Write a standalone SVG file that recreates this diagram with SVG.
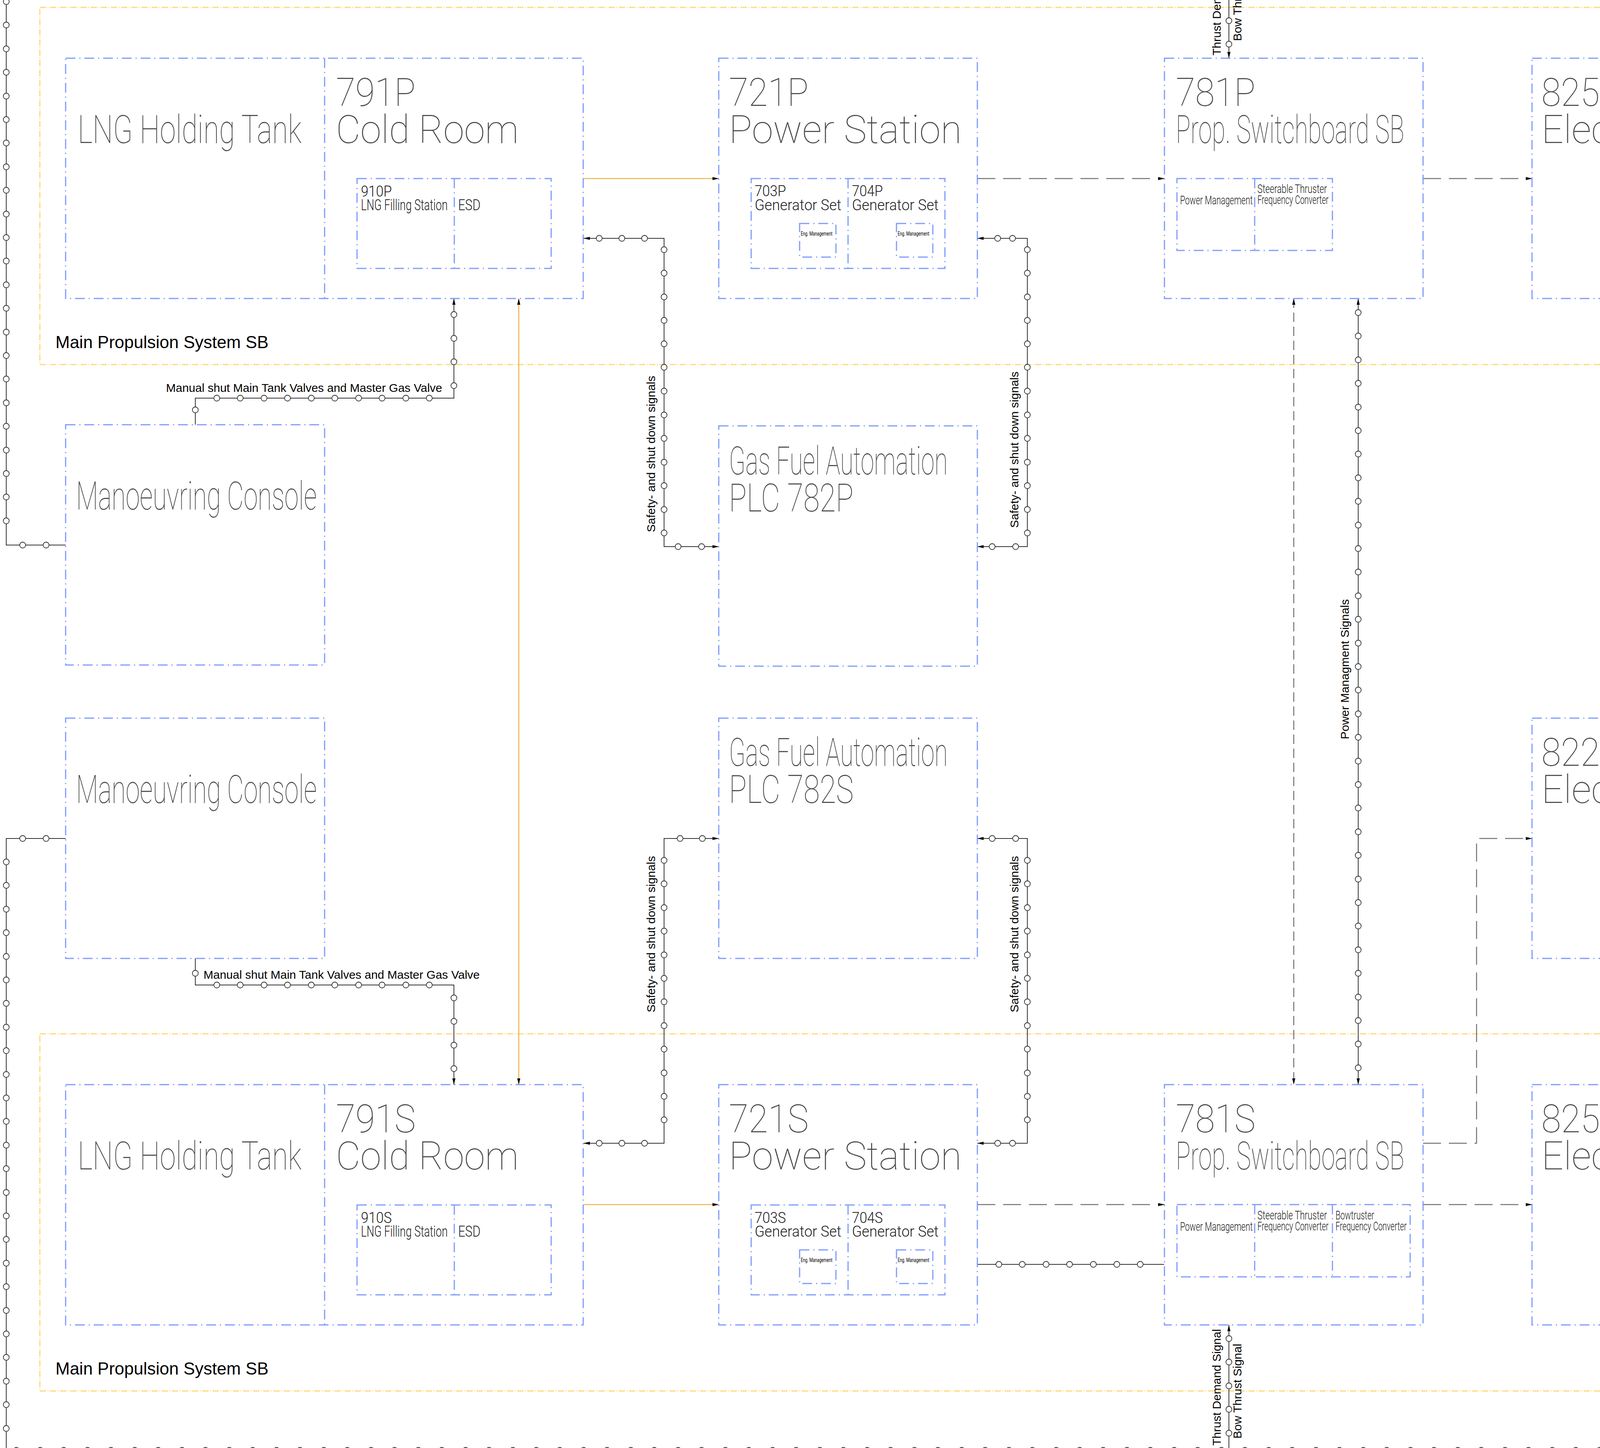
<svg xmlns="http://www.w3.org/2000/svg" xmlns:xlink="http://www.w3.org/1999/xlink" width="5311" height="3706" viewBox="0 0 5311 3706">
<style>
.box{fill:none;stroke:#7f9bff;stroke-width:3;stroke-dasharray:25 10 3 10}
.div{fill:none;stroke:#7f9bff;stroke-width:3;stroke-dasharray:25 10 3 10}
.frame{fill:none;stroke:#ffd97a;stroke-width:3;stroke-dasharray:16 4 2 4}
.wire{fill:none;stroke:#333;stroke-width:2}
.dash{fill:none;stroke:#707070;stroke-width:2.5;stroke-dasharray:46 20}
.dashv{fill:none;stroke:#707070;stroke-width:2.5;stroke-dasharray:24 12}
.yel{fill:none;stroke:#f2b24a;stroke-width:2.5}
.dot{fill:#fff;stroke:#333;stroke-width:1.8}
.cad{font-family:Roboto,Lato,"DejaVu Sans",sans-serif;font-weight:100;fill:#4a4a4a}
.big{font-size:100px}
.mid{font-size:38px;font-weight:300;fill:#222}
.sm{font-size:31px;font-weight:300;fill:#222}
.xs{font-size:14px;font-weight:400;fill:#000}
.lbl{font-family:"Liberation Sans",Arial,sans-serif;font-size:30px;fill:#000}
.ttl{font-family:"Liberation Sans",Arial,sans-serif;font-size:44px;fill:#000}
</style>
<defs>
<marker id="ah" viewBox="0 0 16 8" refX="16" refY="4" markerWidth="16" markerHeight="8" markerUnits="userSpaceOnUse" orient="auto-start-reverse"><path d="M0,0 L16,4 L0,8 z" fill="#000"/></marker>
<circle id="o" r="7.5" class="dot"/>
</defs>

<g id="frames">
<rect class="frame" x="102" y="19" width="5206" height="914"/>
<rect class="frame" x="102" y="2646" width="5206" height="914"/>
<text class="ttl" x="142" y="891">Main Propulsion System SB</text>
<text class="ttl" x="142" y="3518">Main Propulsion System SB</text>
</g>

<g id="connectors">
<path class="wire" d="M16 -20 V1395 H168"/>
<path class="wire" d="M168 2146 H16 V3712 H4916"/>
<path class="wire" d="M500 1087 V1019 H1162 V764" marker-end="url(#ah)"/>
<path class="wire" d="M500 2453 V2521 H1162 V2776" marker-end="url(#ah)"/>
<path class="yel" d="M1494 457 H1840" marker-end="url(#ah)"/>
<path class="yel" d="M1328 764 V2776" marker-start="url(#ah)" marker-end="url(#ah)"/>
<path class="yel" d="M1494 3083 H1840" marker-end="url(#ah)"/>
<path class="wire" d="M1494 610 H1700 V1399 H1840" marker-start="url(#ah)" marker-end="url(#ah)"/>
<path class="wire" d="M2502 610 H2630 V1399 H2502" marker-start="url(#ah)" marker-end="url(#ah)"/>
<path class="wire" d="M1840 2146 H1700 V2926 H1494" marker-start="url(#ah)" marker-end="url(#ah)"/>
<path class="wire" d="M2502 2146 H2630 V2926 H2502" marker-start="url(#ah)" marker-end="url(#ah)"/>
<path class="dash" d="M2502 457 H2981" marker-end="url(#ah)"/>
<path class="dash" d="M3643 457 H3922" marker-end="url(#ah)"/>
<path class="dash" d="M2502 3083 H2981" marker-end="url(#ah)"/>
<path class="dash" d="M3643 3083 H3922" marker-end="url(#ah)"/>
<path class="dash" d="M3643 2926 H3780 V2146 H3922" marker-end="url(#ah)"/>
<path class="dashv" d="M3312 764 V2776" marker-start="url(#ah)" marker-end="url(#ah)"/>
<path class="wire" d="M3477 764 V2776" marker-start="url(#ah)" marker-end="url(#ah)"/>
<path class="wire" d="M2502 3236 H2980"/>
<path class="wire" d="M3146 -20 V149" marker-end="url(#ah)"/>
<path class="wire" d="M4916 -20 V149" marker-end="url(#ah)"/>
<path class="wire" d="M3146 3712 V3391" marker-end="url(#ah)"/>
<path class="wire" d="M4916 3712 V3391" marker-end="url(#ah)"/>

<g id="dots">
<use href="#o" x="16" y="4"/><use href="#o" x="16" y="64"/><use href="#o" x="16" y="125"/><use href="#o" x="16" y="185"/><use href="#o" x="16" y="246"/><use href="#o" x="16" y="306"/><use href="#o" x="16" y="366"/><use href="#o" x="16" y="427"/><use href="#o" x="16" y="487"/><use href="#o" x="16" y="548"/><use href="#o" x="16" y="608"/><use href="#o" x="16" y="668"/><use href="#o" x="16" y="729"/><use href="#o" x="16" y="789"/><use href="#o" x="16" y="850"/><use href="#o" x="16" y="910"/><use href="#o" x="16" y="970"/><use href="#o" x="16" y="1031"/><use href="#o" x="16" y="1091"/><use href="#o" x="16" y="1152"/><use href="#o" x="16" y="1212"/><use href="#o" x="16" y="1272"/><use href="#o" x="16" y="1333"/>
<use href="#o" x="58" y="1395"/><use href="#o" x="118" y="1395"/>
<use href="#o" x="58" y="2146"/><use href="#o" x="118" y="2146"/>
<use href="#o" x="16" y="2206"/><use href="#o" x="16" y="2266"/><use href="#o" x="16" y="2327"/><use href="#o" x="16" y="2387"/><use href="#o" x="16" y="2448"/><use href="#o" x="16" y="2508"/><use href="#o" x="16" y="2568"/><use href="#o" x="16" y="2629"/><use href="#o" x="16" y="2689"/><use href="#o" x="16" y="2750"/><use href="#o" x="16" y="2810"/><use href="#o" x="16" y="2870"/><use href="#o" x="16" y="2931"/><use href="#o" x="16" y="2991"/><use href="#o" x="16" y="3052"/><use href="#o" x="16" y="3112"/><use href="#o" x="16" y="3172"/><use href="#o" x="16" y="3233"/><use href="#o" x="16" y="3293"/><use href="#o" x="16" y="3354"/><use href="#o" x="16" y="3414"/><use href="#o" x="16" y="3474"/><use href="#o" x="16" y="3535"/><use href="#o" x="16" y="3595"/><use href="#o" x="16" y="3656"/>
<use href="#o" x="42" y="3712"/><use href="#o" x="103" y="3712"/><use href="#o" x="163" y="3712"/><use href="#o" x="224" y="3712"/><use href="#o" x="284" y="3712"/><use href="#o" x="345" y="3712"/><use href="#o" x="405" y="3712"/><use href="#o" x="466" y="3712"/><use href="#o" x="526" y="3712"/><use href="#o" x="587" y="3712"/><use href="#o" x="647" y="3712"/><use href="#o" x="708" y="3712"/><use href="#o" x="768" y="3712"/><use href="#o" x="829" y="3712"/><use href="#o" x="889" y="3712"/><use href="#o" x="950" y="3712"/><use href="#o" x="1010" y="3712"/><use href="#o" x="1071" y="3712"/><use href="#o" x="1131" y="3712"/><use href="#o" x="1192" y="3712"/><use href="#o" x="1252" y="3712"/><use href="#o" x="1313" y="3712"/><use href="#o" x="1373" y="3712"/><use href="#o" x="1433" y="3712"/><use href="#o" x="1494" y="3712"/><use href="#o" x="1554" y="3712"/><use href="#o" x="1615" y="3712"/><use href="#o" x="1675" y="3712"/><use href="#o" x="1736" y="3712"/><use href="#o" x="1796" y="3712"/><use href="#o" x="1857" y="3712"/><use href="#o" x="1917" y="3712"/><use href="#o" x="1978" y="3712"/><use href="#o" x="2038" y="3712"/><use href="#o" x="2099" y="3712"/><use href="#o" x="2159" y="3712"/><use href="#o" x="2220" y="3712"/><use href="#o" x="2280" y="3712"/><use href="#o" x="2341" y="3712"/><use href="#o" x="2401" y="3712"/><use href="#o" x="2462" y="3712"/><use href="#o" x="2522" y="3712"/><use href="#o" x="2583" y="3712"/><use href="#o" x="2643" y="3712"/><use href="#o" x="2704" y="3712"/><use href="#o" x="2764" y="3712"/><use href="#o" x="2824" y="3712"/><use href="#o" x="2885" y="3712"/><use href="#o" x="2945" y="3712"/><use href="#o" x="3006" y="3712"/><use href="#o" x="3066" y="3712"/><use href="#o" x="3127" y="3712"/><use href="#o" x="3187" y="3712"/><use href="#o" x="3248" y="3712"/><use href="#o" x="3308" y="3712"/><use href="#o" x="3369" y="3712"/><use href="#o" x="3429" y="3712"/><use href="#o" x="3490" y="3712"/><use href="#o" x="3550" y="3712"/><use href="#o" x="3611" y="3712"/><use href="#o" x="3671" y="3712"/><use href="#o" x="3732" y="3712"/><use href="#o" x="3792" y="3712"/><use href="#o" x="3853" y="3712"/><use href="#o" x="3913" y="3712"/><use href="#o" x="3974" y="3712"/><use href="#o" x="4034" y="3712"/><use href="#o" x="4095" y="3712"/><use href="#o" x="4155" y="3712"/><use href="#o" x="4215" y="3712"/><use href="#o" x="4276" y="3712"/><use href="#o" x="4336" y="3712"/><use href="#o" x="4397" y="3712"/><use href="#o" x="4457" y="3712"/><use href="#o" x="4518" y="3712"/><use href="#o" x="4578" y="3712"/><use href="#o" x="4639" y="3712"/><use href="#o" x="4699" y="3712"/><use href="#o" x="4760" y="3712"/><use href="#o" x="4820" y="3712"/><use href="#o" x="4881" y="3712"/>
<use href="#o" x="500" y="1049"/>
<use href="#o" x="555" y="1019"/><use href="#o" x="615" y="1019"/><use href="#o" x="676" y="1019"/><use href="#o" x="736" y="1019"/><use href="#o" x="797" y="1019"/><use href="#o" x="857" y="1019"/><use href="#o" x="918" y="1019"/><use href="#o" x="978" y="1019"/><use href="#o" x="1039" y="1019"/><use href="#o" x="1099" y="1019"/>
<use href="#o" x="1162" y="987"/><use href="#o" x="1162" y="926"/><use href="#o" x="1162" y="866"/><use href="#o" x="1162" y="805"/>
<use href="#o" x="500" y="2491"/>
<use href="#o" x="555" y="2521"/><use href="#o" x="615" y="2521"/><use href="#o" x="676" y="2521"/><use href="#o" x="736" y="2521"/><use href="#o" x="797" y="2521"/><use href="#o" x="857" y="2521"/><use href="#o" x="918" y="2521"/><use href="#o" x="978" y="2521"/><use href="#o" x="1039" y="2521"/><use href="#o" x="1099" y="2521"/>
<use href="#o" x="1162" y="2554"/><use href="#o" x="1162" y="2614"/><use href="#o" x="1162" y="2675"/><use href="#o" x="1162" y="2735"/>
<use href="#o" x="1534" y="610"/><use href="#o" x="1592" y="610"/><use href="#o" x="1650" y="610"/>
<use href="#o" x="1700" y="639"/><use href="#o" x="1700" y="699"/><use href="#o" x="1700" y="760"/><use href="#o" x="1700" y="820"/><use href="#o" x="1700" y="880"/><use href="#o" x="1700" y="940"/><use href="#o" x="1700" y="1001"/><use href="#o" x="1700" y="1062"/><use href="#o" x="1700" y="1122"/><use href="#o" x="1700" y="1183"/><use href="#o" x="1700" y="1243"/><use href="#o" x="1700" y="1304"/><use href="#o" x="1700" y="1364"/>
<use href="#o" x="1736" y="1399"/><use href="#o" x="1796" y="1399"/>
<use href="#o" x="2554" y="610"/><use href="#o" x="2592" y="610"/>
<use href="#o" x="2630" y="639"/><use href="#o" x="2630" y="699"/><use href="#o" x="2630" y="760"/><use href="#o" x="2630" y="820"/><use href="#o" x="2630" y="880"/><use href="#o" x="2630" y="940"/><use href="#o" x="2630" y="1001"/><use href="#o" x="2630" y="1062"/><use href="#o" x="2630" y="1122"/><use href="#o" x="2630" y="1183"/><use href="#o" x="2630" y="1243"/><use href="#o" x="2630" y="1304"/><use href="#o" x="2630" y="1364"/>
<use href="#o" x="2540" y="1399"/><use href="#o" x="2600" y="1399"/>
<use href="#o" x="1741" y="2146"/><use href="#o" x="1798" y="2146"/>
<use href="#o" x="1700" y="2202"/><use href="#o" x="1700" y="2262"/><use href="#o" x="1700" y="2323"/><use href="#o" x="1700" y="2383"/><use href="#o" x="1700" y="2444"/><use href="#o" x="1700" y="2504"/><use href="#o" x="1700" y="2564"/><use href="#o" x="1700" y="2625"/><use href="#o" x="1700" y="2685"/><use href="#o" x="1700" y="2746"/><use href="#o" x="1700" y="2806"/><use href="#o" x="1700" y="2866"/>
<use href="#o" x="1534" y="2926"/><use href="#o" x="1592" y="2926"/><use href="#o" x="1650" y="2926"/>
<use href="#o" x="2540" y="2146"/><use href="#o" x="2600" y="2146"/>
<use href="#o" x="2630" y="2202"/><use href="#o" x="2630" y="2262"/><use href="#o" x="2630" y="2323"/><use href="#o" x="2630" y="2383"/><use href="#o" x="2630" y="2444"/><use href="#o" x="2630" y="2504"/><use href="#o" x="2630" y="2564"/><use href="#o" x="2630" y="2625"/><use href="#o" x="2630" y="2685"/><use href="#o" x="2630" y="2746"/><use href="#o" x="2630" y="2806"/><use href="#o" x="2630" y="2866"/>
<use href="#o" x="2554" y="2926"/><use href="#o" x="2592" y="2926"/>
<use href="#o" x="3477" y="800"/><use href="#o" x="3477" y="860"/><use href="#o" x="3477" y="921"/><use href="#o" x="3477" y="981"/><use href="#o" x="3477" y="1042"/><use href="#o" x="3477" y="1102"/><use href="#o" x="3477" y="1162"/><use href="#o" x="3477" y="1223"/><use href="#o" x="3477" y="1283"/><use href="#o" x="3477" y="1344"/><use href="#o" x="3477" y="1404"/><use href="#o" x="3477" y="1464"/><use href="#o" x="3477" y="1525"/><use href="#o" x="3477" y="1585"/><use href="#o" x="3477" y="1646"/><use href="#o" x="3477" y="1706"/><use href="#o" x="3477" y="1766"/><use href="#o" x="3477" y="1827"/><use href="#o" x="3477" y="1887"/><use href="#o" x="3477" y="1948"/><use href="#o" x="3477" y="2008"/><use href="#o" x="3477" y="2068"/><use href="#o" x="3477" y="2129"/><use href="#o" x="3477" y="2189"/><use href="#o" x="3477" y="2250"/><use href="#o" x="3477" y="2310"/><use href="#o" x="3477" y="2370"/><use href="#o" x="3477" y="2431"/><use href="#o" x="3477" y="2491"/><use href="#o" x="3477" y="2552"/><use href="#o" x="3477" y="2612"/><use href="#o" x="3477" y="2672"/><use href="#o" x="3477" y="2733"/>
<use href="#o" x="2557" y="3236"/><use href="#o" x="2617" y="3236"/><use href="#o" x="2678" y="3236"/><use href="#o" x="2738" y="3236"/><use href="#o" x="2799" y="3236"/><use href="#o" x="2859" y="3236"/><use href="#o" x="2919" y="3236"/>
<use href="#o" x="3146" y="53"/><use href="#o" x="3146" y="113"/>
<use href="#o" x="4916" y="46"/><use href="#o" x="4916" y="107"/>
<use href="#o" x="3146" y="3426"/><use href="#o" x="3146" y="3486"/><use href="#o" x="3146" y="3547"/><use href="#o" x="3146" y="3607"/><use href="#o" x="3146" y="3668"/>
<use href="#o" x="4916" y="3434"/><use href="#o" x="4916" y="3494"/><use href="#o" x="4916" y="3555"/><use href="#o" x="4916" y="3615"/><use href="#o" x="4916" y="3676"/>
</g>

<g id="connector-labels">
<text class="lbl" x="425" y="1003">Manual shut Main Tank Valves and Master Gas Valve</text>
<text class="lbl" x="521" y="2505">Manual shut Main Tank Valves and Master Gas Valve</text>
<text class="lbl" transform="translate(1677,1362) rotate(-90)">Safety- and shut down signals</text>
<text class="lbl" transform="translate(2607,1351) rotate(-90)">Safety- and shut down signals</text>
<text class="lbl" transform="translate(1677,2591) rotate(-90)">Safety- and shut down signals</text>
<text class="lbl" transform="translate(2607,2591) rotate(-90)">Safety- and shut down signals</text>
<text class="lbl" transform="translate(3453,1892) rotate(-90)">Power Managment Signals</text>
<text class="lbl" transform="translate(3125,142) rotate(-90)">Thrust Demand Signal</text>
<text class="lbl" transform="translate(3178,105) rotate(-90)">Bow Thrust Signal</text>
<text class="lbl" transform="translate(4895,56) rotate(-90)">Steering Signal</text>
<text class="lbl" transform="translate(3125,3700) rotate(-90)">Thrust Demand Signal</text>
<text class="lbl" transform="translate(3178,3682) rotate(-90)">Bow Thrust Signal</text>
<text class="lbl" transform="translate(4895,3670) rotate(-90)">Steering Signal</text>
</g>
</g>

<g id="n791P">
<rect class="box" x="168" y="149" width="1325" height="615"/>
<path class="div" d="M831 149 V764"/>
<text class="cad big" x="199" y="366" textLength="573" lengthAdjust="spacingAndGlyphs">LNG Holding Tank</text>
<text class="cad big" x="860" y="271" textLength="204" lengthAdjust="spacingAndGlyphs">791P</text>
<text class="cad big" x="860" y="366" textLength="468" lengthAdjust="spacingAndGlyphs">Cold Room</text>
</g>
<g id="n910P">
<rect class="box" x="914" y="457" width="497" height="230"/>
<path class="div" d="M1163 457 V687"/>
<text class="cad mid" x="924" y="503" textLength="79" lengthAdjust="spacingAndGlyphs">910P</text>
<text class="cad mid" x="924" y="538" textLength="222" lengthAdjust="spacingAndGlyphs">LNG Filling Station</text>
<text class="cad mid" x="1173" y="538" textLength="57" lengthAdjust="spacingAndGlyphs">ESD</text>
</g>
<g id="n721P">
<rect class="box" x="1840" y="149" width="662" height="615"/>
<text class="cad big" x="1866" y="271" textLength="204" lengthAdjust="spacingAndGlyphs">721P</text>
<text class="cad big" x="1866" y="366" textLength="596" lengthAdjust="spacingAndGlyphs">Power Station</text>
</g>
<g id="n703P">
<rect class="box" x="1923" y="457" width="496" height="230"/>
<path class="div" d="M2171 457 V687"/>
<text class="cad mid" x="1932" y="502" textLength="80" lengthAdjust="spacingAndGlyphs">703P</text>
<text class="cad mid" x="1932" y="538" textLength="222" lengthAdjust="spacingAndGlyphs">Generator Set</text>
<text class="cad mid" x="2181" y="502" textLength="79" lengthAdjust="spacingAndGlyphs">704P</text>
<text class="cad mid" x="2181" y="538" textLength="222" lengthAdjust="spacingAndGlyphs">Generator Set</text>
<rect class="box" x="2047" y="572" width="93" height="86"/>
<text class="cad xs" x="2050" y="603" textLength="81" lengthAdjust="spacingAndGlyphs">Eng. Management</text>
<rect class="box" x="2295" y="572" width="93" height="86"/>
<text class="cad xs" x="2298" y="603" textLength="81" lengthAdjust="spacingAndGlyphs">Eng. Management</text>
</g>
<g id="n781P">
<rect class="box" x="2981" y="149" width="662" height="615"/>
<text class="cad big" x="3010" y="271" textLength="204" lengthAdjust="spacingAndGlyphs">781P</text>
<text class="cad big" x="3010" y="366" textLength="585" lengthAdjust="spacingAndGlyphs">Prop. Switchboard SB</text>
<rect class="box" x="3013" y="457" width="398" height="184"/>
<path class="div" d="M3212 457 V641"/>
<text class="cad sm" x="3021" y="523" textLength="186" lengthAdjust="spacingAndGlyphs">Power Management</text>
<text class="cad sm" x="3219" y="494" textLength="178" lengthAdjust="spacingAndGlyphs">Steerable Thruster</text>
<text class="cad sm" x="3219" y="522" textLength="182" lengthAdjust="spacingAndGlyphs">Frequency Converter</text>
</g>
<g id="n825P">
<rect class="box" x="3922" y="149" width="1326" height="615"/>
<path class="div" d="M4586 149 V764"/>
<text class="cad big" x="3946" y="271" textLength="204" lengthAdjust="spacingAndGlyphs">825P</text>
<text class="cad big" x="3946" y="366" textLength="596" lengthAdjust="spacingAndGlyphs">Electric Motor</text>
<text class="cad big" x="4610" y="271" textLength="208" lengthAdjust="spacingAndGlyphs">826P</text>
<text class="cad big" x="4610" y="366" textLength="590" lengthAdjust="spacingAndGlyphs">Steerable Thruster</text>
</g>

<g id="nConsoleP">
<rect class="box" x="168" y="1087" width="663" height="615"/>
<text class="cad big" x="195" y="1304" textLength="616" lengthAdjust="spacingAndGlyphs">Manoeuvring Console</text>
</g>
<g id="n782P">
<rect class="box" x="1840" y="1090" width="662" height="615"/>
<text class="cad big" x="1866" y="1214" textLength="560" lengthAdjust="spacingAndGlyphs">Gas Fuel Automation</text>
<text class="cad big" x="1866" y="1309" textLength="319" lengthAdjust="spacingAndGlyphs">PLC 782P</text>
</g>

<g id="nConsoleS">
<rect class="box" x="168" y="1838" width="663" height="615"/>
<text class="cad big" x="195" y="2055" textLength="616" lengthAdjust="spacingAndGlyphs">Manoeuvring Console</text>
</g>
<g id="n782S">
<rect class="box" x="1840" y="1838" width="662" height="615"/>
<text class="cad big" x="1866" y="1960" textLength="560" lengthAdjust="spacingAndGlyphs">Gas Fuel Automation</text>
<text class="cad big" x="1866" y="2055" textLength="319" lengthAdjust="spacingAndGlyphs">PLC 782S</text>
</g>
<g id="n822X">
<rect class="box" x="3922" y="1838" width="1326" height="615"/>
<path class="div" d="M4586 1838 V2453"/>
<text class="cad big" x="3946" y="1960" textLength="204" lengthAdjust="spacingAndGlyphs">822X</text>
<text class="cad big" x="3946" y="2055" textLength="596" lengthAdjust="spacingAndGlyphs">Electric Motor</text>
<text class="cad big" x="4610" y="1960" textLength="204" lengthAdjust="spacingAndGlyphs">821X</text>
<text class="cad big" x="4610" y="2055" textLength="426" lengthAdjust="spacingAndGlyphs">Bow Thruster</text>
</g>

<g id="n791S">
<rect class="box" x="168" y="2776" width="1325" height="615"/>
<path class="div" d="M831 2776 V3391"/>
<text class="cad big" x="199" y="2993" textLength="573" lengthAdjust="spacingAndGlyphs">LNG Holding Tank</text>
<text class="cad big" x="860" y="2898" textLength="204" lengthAdjust="spacingAndGlyphs">791S</text>
<text class="cad big" x="860" y="2993" textLength="468" lengthAdjust="spacingAndGlyphs">Cold Room</text>
</g>
<g id="n910S">
<rect class="box" x="914" y="3084" width="497" height="230"/>
<path class="div" d="M1163 3084 V3314"/>
<text class="cad mid" x="924" y="3130" textLength="79" lengthAdjust="spacingAndGlyphs">910S</text>
<text class="cad mid" x="924" y="3165" textLength="222" lengthAdjust="spacingAndGlyphs">LNG Filling Station</text>
<text class="cad mid" x="1173" y="3165" textLength="57" lengthAdjust="spacingAndGlyphs">ESD</text>
</g>
<g id="n721S">
<rect class="box" x="1840" y="2776" width="662" height="615"/>
<text class="cad big" x="1866" y="2898" textLength="204" lengthAdjust="spacingAndGlyphs">721S</text>
<text class="cad big" x="1866" y="2993" textLength="596" lengthAdjust="spacingAndGlyphs">Power Station</text>
</g>
<g id="n703S">
<rect class="box" x="1923" y="3084" width="496" height="230"/>
<path class="div" d="M2171 3084 V3314"/>
<text class="cad mid" x="1932" y="3130" textLength="80" lengthAdjust="spacingAndGlyphs">703S</text>
<text class="cad mid" x="1932" y="3165" textLength="222" lengthAdjust="spacingAndGlyphs">Generator Set</text>
<text class="cad mid" x="2181" y="3130" textLength="79" lengthAdjust="spacingAndGlyphs">704S</text>
<text class="cad mid" x="2181" y="3165" textLength="222" lengthAdjust="spacingAndGlyphs">Generator Set</text>
<rect class="box" x="2047" y="3199" width="93" height="86"/>
<text class="cad xs" x="2050" y="3230" textLength="81" lengthAdjust="spacingAndGlyphs">Eng. Management</text>
<rect class="box" x="2295" y="3199" width="93" height="86"/>
<text class="cad xs" x="2298" y="3230" textLength="81" lengthAdjust="spacingAndGlyphs">Eng. Management</text>
</g>
<g id="n781S">
<rect class="box" x="2981" y="2776" width="662" height="615"/>
<text class="cad big" x="3010" y="2898" textLength="204" lengthAdjust="spacingAndGlyphs">781S</text>
<text class="cad big" x="3010" y="2993" textLength="585" lengthAdjust="spacingAndGlyphs">Prop. Switchboard SB</text>
<rect class="box" x="3013" y="3083" width="597" height="185"/>
<path class="div" d="M3212 3083 V3268 M3411 3083 V3268"/>
<text class="cad sm" x="3021" y="3150" textLength="186" lengthAdjust="spacingAndGlyphs">Power Management</text>
<text class="cad sm" x="3219" y="3121" textLength="178" lengthAdjust="spacingAndGlyphs">Steerable Thruster</text>
<text class="cad sm" x="3219" y="3149" textLength="182" lengthAdjust="spacingAndGlyphs">Frequency Converter</text>
<text class="cad sm" x="3419" y="3121" textLength="99" lengthAdjust="spacingAndGlyphs">Bowtruster</text>
<text class="cad sm" x="3419" y="3149" textLength="182" lengthAdjust="spacingAndGlyphs">Frequency Converter</text>
</g>
<g id="n825S">
<rect class="box" x="3922" y="2776" width="1326" height="615"/>
<path class="div" d="M4586 2776 V3391"/>
<text class="cad big" x="3946" y="2898" textLength="204" lengthAdjust="spacingAndGlyphs">825S</text>
<text class="cad big" x="3946" y="2993" textLength="596" lengthAdjust="spacingAndGlyphs">Electric Motor</text>
<text class="cad big" x="4610" y="2898" textLength="208" lengthAdjust="spacingAndGlyphs">826S</text>
<text class="cad big" x="4610" y="2993" textLength="590" lengthAdjust="spacingAndGlyphs">Steerable Thruster</text>
</g>
</svg>
